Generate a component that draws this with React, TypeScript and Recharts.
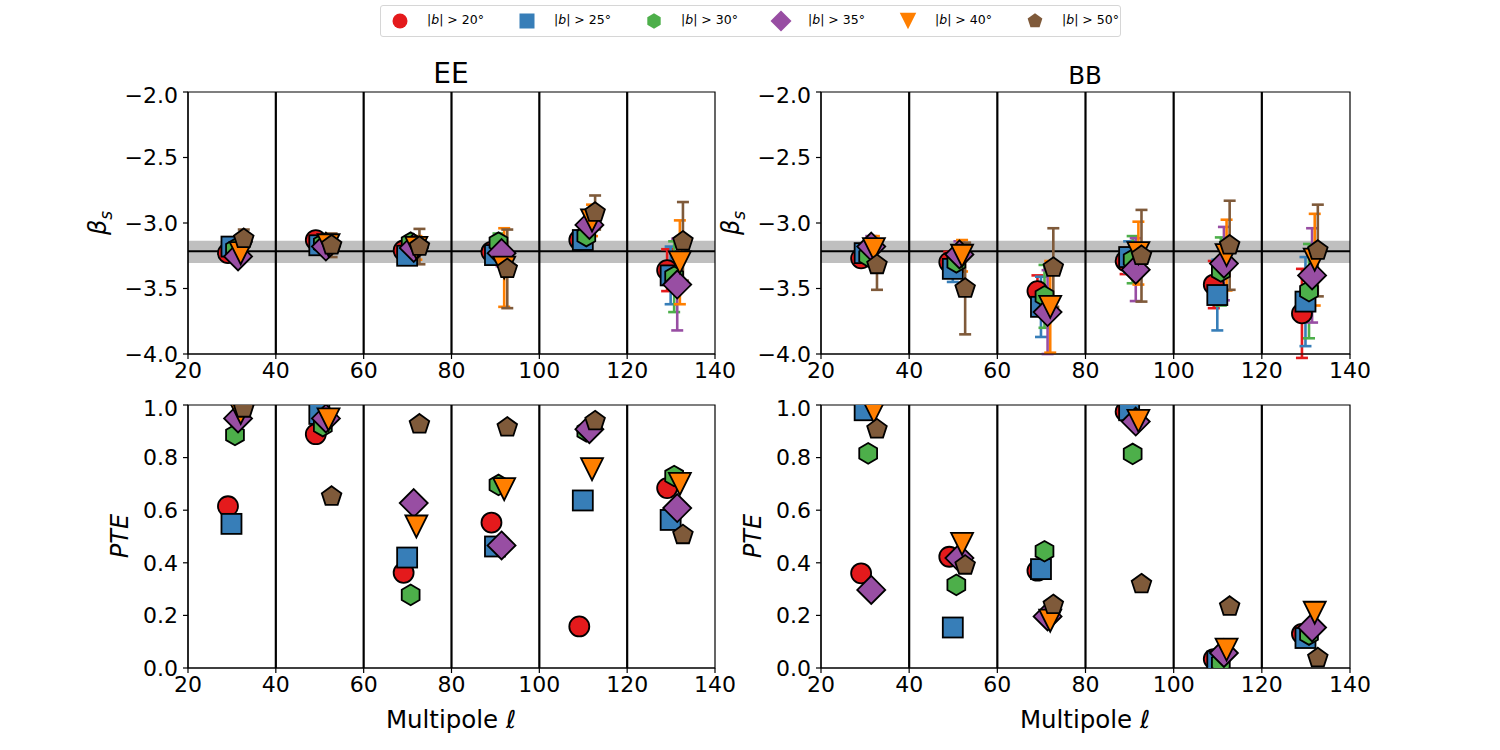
import React from "react";
import {
  ScatterChart,
  Scatter,
  XAxis,
  YAxis,
  ReferenceLine,
  ReferenceArea,
  ErrorBar,
} from "recharts";

// multipole bin centres and the small horizontal shift used per latitude cut
const ell = [30, 50, 70, 90, 110, 130];
const shift = [-0.9, -0.1, 0.7, 1.4, 2.0, 2.7];
const cuts = ["20", "25", "30", "35", "40", "50"];
const colors = ["#e41a1c", "#377eb8", "#4daf4a", "#984ea3", "#ff7f00", "#7f5a3a"];
const kinds = ["circle", "square", "hexagon", "diamond", "triangle", "pentagon"];

// beta_s, EE (rows: |b| > 20, 25, 30, 35, 40, 50)
const eeBeta = [
  [-3.23, -3.13, -3.21, -3.22, -3.13, -3.36],
  [-3.18, -3.17, -3.25, -3.245, -3.13, -3.4],
  [-3.2, -3.16, -3.15, -3.15, -3.1, -3.41],
  [-3.255, -3.18, -3.19, -3.23, -3.015, -3.47],
  [-3.23, -3.17, -3.19, -3.34, -2.98, -3.3],
  [-3.12, -3.17, -3.18, -3.35, -2.92, -3.14],
];
const eeBetaErr = [
  [0.03, 0.03, 0.04, 0.05, 0.04, 0.16],
  [0.03, 0.03, 0.05, 0.06, 0.05, 0.22],
  [0.03, 0.04, 0.05, 0.07, 0.06, 0.27],
  [0.04, 0.05, 0.06, 0.1, 0.07, 0.35],
  [0.05, 0.06, 0.09, 0.3, 0.12, 0.32],
  [0.07, 0.09, 0.135, 0.3, 0.13, 0.3],
];

// beta_s, BB
const bbBeta = [
  [-3.27, -3.3, -3.52, -3.29, -3.47, -3.69],
  [-3.23, -3.35, -3.64, -3.26, -3.55, -3.6],
  [-3.255, -3.3, -3.56, -3.28, -3.37, -3.52],
  [-3.18, -3.24, -3.68, -3.356, -3.31, -3.4],
  [-3.2, -3.25, -3.64, -3.23, -3.245, -3.28],
  [-3.32, -3.5, -3.34, -3.25, -3.17, -3.21],
];
const bbBetaErr = [
  [0.05, 0.08, 0.12, 0.1, 0.18, 0.34],
  [0.06, 0.1, 0.23, 0.12, 0.27, 0.34],
  [0.07, 0.1, 0.24, 0.18, 0.26, 0.36],
  [0.08, 0.1, 0.32, 0.24, 0.28, 0.36],
  [0.1, 0.12, 0.35, 0.24, 0.27, 0.35],
  [0.19, 0.35, 0.3, 0.35, 0.34, 0.35],
];

// probability to exceed
const eePte = [
  [0.615, 0.889, 0.362, 0.553, 0.158, 0.684],
  [0.548, 0.966, 0.42, 0.462, 0.637, 0.563],
  [0.886, 0.92, 0.278, 0.696, 0.9, 0.73],
  [0.949, 0.949, 0.627, 0.466, 0.908, 0.608],
  [0.97, 0.945, 0.538, 0.68, 0.756, 0.7],
  [0.987, 0.652, 0.927, 0.915, 0.939, 0.506],
];
const bbPte = [
  [0.36, 0.423, 0.37, 0.975, 0.034, 0.13],
  [0.98, 0.154, 0.376, 0.98, 0.025, 0.114],
  [0.816, 0.316, 0.444, 0.814, 0.02, 0.127],
  [0.297, 0.418, 0.196, 0.937, 0.057, 0.154],
  [0.975, 0.472, 0.18, 0.94, 0.07, 0.21],
  [0.908, 0.39, 0.24, 0.319, 0.234, 0.038],
];

const xTicks = [20, 40, 60, 80, 100, 120, 140];
const betaTicks = [-4, -3.5, -3, -2.5, -2];
const pteTicks = [0, 0.2, 0.4, 0.6, 0.8, 1];
const betaFit = -3.215;
const betaBand = [-3.305, -3.135];

const FONT = "'DejaVu Sans', sans-serif";

function poly(cx: number, cy: number, r: number, n: number) {
  const out: string[] = [];
  for (let k = 0; k < n; k++) {
    const a = -Math.PI / 2 + (k * 2 * Math.PI) / n;
    out.push(`${cx + r * Math.cos(a)},${cy + r * Math.sin(a)}`);
  }
  return out.join(" ");
}

function Marker({ kind, cx, cy, fill, edge, s = 1 }: any) {
  const st = edge ? { fill, stroke: "#000", strokeWidth: 1.8 } : { fill, stroke: "none" };
  if (kind === "circle") return <circle cx={cx} cy={cy} r={10 * s} {...st} />;
  if (kind === "square")
    return <rect x={cx - 10 * s} y={cy - 10 * s} width={20 * s} height={20 * s} {...st} />;
  if (kind === "hexagon") return <polygon points={poly(cx, cy, 10.3 * s, 6)} {...st} />;
  if (kind === "pentagon") return <polygon points={poly(cx, cy, 10.3 * s, 5)} {...st} />;
  if (kind === "diamond") {
    const h = 14 * s;
    return <polygon points={`${cx},${cy - h} ${cx + h},${cy} ${cx},${cy + h} ${cx - h},${cy}`} {...st} />;
  }
  const w = 11 * s;
  return <polygon points={`${cx - w},${cy - w} ${cx + w},${cy - w} ${cx},${cy + w}`} {...st} />;
}

const fmt = (v: number) => v.toFixed(1).replace("-", "\u2212");

function Panel({ x0, y0, plotW, plotH, rows, errs, beta }: any) {
  const ML = 80;
  const MT = 10;
  return (
    <div style={{ position: "absolute", left: x0 - ML, top: y0 - MT }}>
      <ScatterChart
        width={ML + plotW + 20}
        height={MT + plotH + 40}
        margin={{ top: MT, right: 20, left: 0, bottom: 0 }}
      >
        <XAxis
          type="number"
          dataKey="x"
          domain={[20, 140]}
          ticks={xTicks}
          allowDataOverflow
          height={40}
          tickSize={5}
          tickMargin={3}
          axisLine={{ stroke: "#000", strokeWidth: 1.2 }}
          tickLine={{ stroke: "#000", strokeWidth: 1.2 }}
          tick={{ fontSize: 22, fill: "#000", fontFamily: FONT }}
        />
        <YAxis
          type="number"
          dataKey="y"
          domain={beta ? [-4, -2] : [0, 1]}
          ticks={beta ? betaTicks : pteTicks}
          tickFormatter={fmt}
          allowDataOverflow
          width={ML}
          tickSize={5}
          tickMargin={5}
          axisLine={{ stroke: "#000", strokeWidth: 1.2 }}
          tickLine={{ stroke: "#000", strokeWidth: 1.2 }}
          tick={{ fontSize: 22, fill: "#000", fontFamily: FONT }}
        />
        {beta && (
          <ReferenceArea y1={betaBand[0]} y2={betaBand[1]} fill="#bfbfbf" fillOpacity={1} stroke="none" />
        )}
        {xTicks.slice(1, -1).map((t) => (
          <ReferenceLine key={t} x={t} stroke="#000" strokeWidth={2.2} />
        ))}
        {beta && <ReferenceLine y={betaFit} stroke="#000" strokeWidth={2} />}
        {rows.map((row: number[], i: number) => (
          <Scatter
            key={cuts[i]}
            data={row.map((y, k) => ({ x: ell[k] + shift[i], y, e: errs ? errs[i][k] : 0 }))}
            isAnimationActive={false}
            shape={(p: any) => <Marker kind={kinds[i]} cx={p.cx} cy={p.cy} fill={colors[i]} edge />}
          >
            {errs && (
              <ErrorBar
                dataKey="e"
                direction="y"
                width={6}
                stroke={colors[i]}
                strokeWidth={2.6}
                isAnimationActive={false}
              />
            )}
          </Scatter>
        ))}
        <ReferenceArea
          x1={20}
          x2={140}
          y1={beta ? -4 : 0}
          y2={beta ? -2 : 1}
          fill="none"
          stroke="#000"
          strokeWidth={1.2}
        />
      </ScatterChart>
    </div>
  );
}

function Legend() {
  return (
    <div
      style={{
        position: "absolute",
        left: 380,
        top: 5,
        width: 739,
        height: 30,
        border: "1px solid #d6d6d6",
        borderRadius: 3,
        background: "#fff",
      }}
    >
      {cuts.map((c, i) => (
        <div key={c} style={{ position: "absolute", left: 8 + i * 127, top: 0, height: 30 }}>
          <svg width={22} height={30} style={{ position: "absolute", left: 0, top: 0 }}>
            <Marker kind={kinds[i]} cx={11} cy={15} fill={colors[i]} s={0.75} />
          </svg>
          <span
            style={{
              position: "absolute",
              left: 38,
              top: 6,
              fontSize: 12.5,
              whiteSpace: "nowrap",
              fontFamily: FONT,
            }}
          >
            |<i>b</i>| &gt; {c}°
          </span>
        </div>
      ))}
    </div>
  );
}

function Text({ x, y, size, rotate, children }: any) {
  return (
    <div
      style={{
        position: "absolute",
        left: x,
        top: y,
        fontSize: size,
        fontFamily: FONT,
        whiteSpace: "nowrap",
        transform: `translate(-50%, -50%)${rotate ? " rotate(-90deg)" : ""}`,
      }}
    >
      {children}
    </div>
  );
}

export default function App() {
  const beta = (
    <>
      <i>β</i>
      <sub style={{ fontSize: "0.7em" }}>
        <i>s</i>
      </sub>
    </>
  );
  return (
    <div style={{ position: "absolute", left: 0, top: 0, width: 1500, height: 750, background: "#fff" }}>
      <Legend />
      <Panel x0={188} y0={92} plotW={527} plotH={262} rows={eeBeta} errs={eeBetaErr} beta />
      <Panel x0={821} y0={92} plotW={529} plotH={262} rows={bbBeta} errs={bbBetaErr} beta />
      <Panel x0={188} y0={405} plotW={527} plotH={263} rows={eePte} />
      <Panel x0={821} y0={405} plotW={529} plotH={263} rows={bbPte} />
      <Text x={451} y={73} size={28}>EE</Text>
      <Text x={1085} y={75} size={24.5}>BB</Text>
      <Text x={100} y={223} size={24} rotate>{beta}</Text>
      <Text x={733} y={223} size={24} rotate>{beta}</Text>
      <Text x={120} y={536} size={24} rotate><i>PTE</i></Text>
      <Text x={753} y={536} size={24} rotate><i>PTE</i></Text>
      <Text x={451} y={719} size={24.5}>Multipole <i>ℓ</i></Text>
      <Text x={1085} y={719} size={24.5}>Multipole <i>ℓ</i></Text>
    </div>
  );
}
